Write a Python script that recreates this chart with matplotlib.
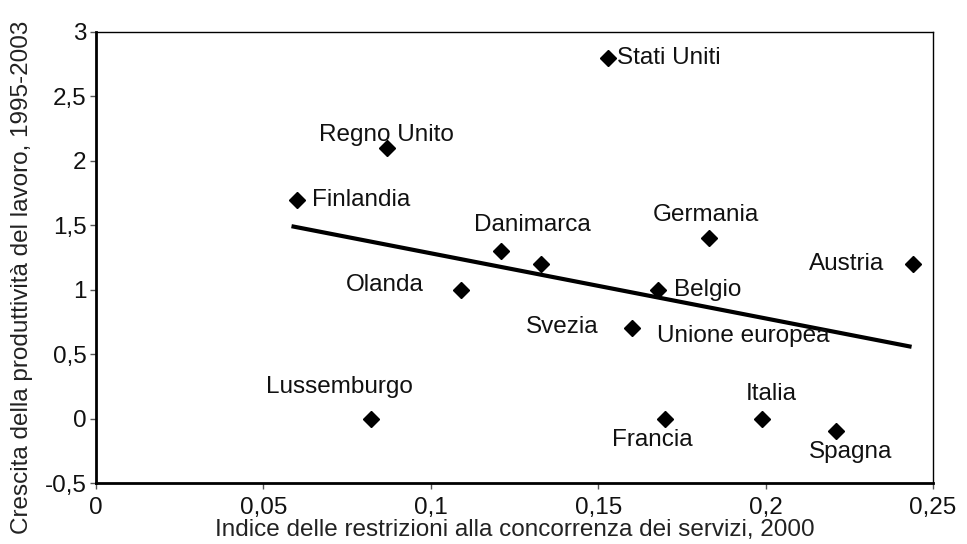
import matplotlib.pyplot as plt

plt.rcParams['font.family'] = ['Liberation Sans', 'DejaVu Sans']

# Dati: indice delle restrizioni (x) e crescita della produttività (y)
paesi = ['Stati Uniti', 'Regno Unito', 'Finlandia', 'Danimarca', 'Svezia',
         'Olanda', 'Germania', 'Belgio', 'Unione europea', 'Austria',
         'Lussemburgo', 'Francia', 'Italia', 'Spagna']
indice = [0.153, 0.087, 0.060, 0.121, 0.133, 0.109, 0.183, 0.168, 0.160,
          0.244, 0.082, 0.170, 0.199, 0.221]
crescita = [2.8, 2.1, 1.7, 1.3, 1.2, 1.0, 1.4, 1.0, 0.7, 1.2, 0.0, 0.0,
            0.0, -0.1]

# Retta di tendenza (estremi)
trend_x = [0.059, 0.243]
trend_y = [1.49, 0.56]

x_ticks = [0, 0.05, 0.1, 0.15, 0.2, 0.25]
x_labels = ['0', '0,05', '0,1', '0,15', '0,2', '0,25']
y_ticks = [-0.5, 0, 0.5, 1, 1.5, 2, 2.5, 3]
y_labels = ['-0,5', '0', '0,5', '1', '1,5', '2', '2,5', '3']

FS = 17.5

# posizione delle etichette rispetto al punto (pixel) e allineamento
etichette = {
    'Stati Uniti': (9, 0, 'left', 'center'),
    'Regno Unito': (-1, 13, 'center', 'center'),
    'Finlandia': (15, 0, 'left', 'center'),
    'Olanda': (-37, 5, 'right', 'center'),
    'Germania': (-3, 23, 'center', 'center'),
    'Belgio': (16, 0, 'left', 'center'),
    'Unione europea': (25, -8, 'left', 'center'),
    'Austria': (-29, 0, 'right', 'center'),
    'Lussemburgo': (-31, 32, 'center', 'center'),
    'Francia': (-13, -21, 'center', 'center'),
    'Italia': (9, 25, 'center', 'center'),
    'Spagna': (15, -21, 'center', 'center'),
}

fig = plt.figure(figsize=(9.67, 5.44), dpi=100)
ax = fig.add_axes([0.0993, 0.1121, 0.8655, 0.8291])

ax.plot(indice, crescita, linestyle='none', marker='D', markersize=8,
        color='black')
ax.plot(trend_x, trend_y, color='black', linewidth=3)

for nome, xv, yv in zip(paesi, indice, crescita):
    if nome not in etichette:
        continue
    dx, dy, ha, va = etichette[nome]
    ax.annotate(nome, (xv, yv), xytext=(dx, dy), textcoords='offset pixels',
                ha=ha, va=va, fontsize=FS, color='#111111')

# Danimarca: etichetta centrata sopra i due punti vicini
i_dk = paesi.index('Danimarca')
ax.annotate('Danimarca', (indice[i_dk], crescita[i_dk]), xytext=(31, 26),
            textcoords='offset pixels', ha='center', va='center', fontsize=FS,
            color='#111111')

# Svezia: etichetta a sinistra del punto dell'Unione europea
i_ue = paesi.index('Unione europea')
ax.annotate('Svezia', (indice[i_ue], crescita[i_ue]), xytext=(-33, 1),
            textcoords='offset pixels', ha='right', va='center', fontsize=FS,
            color='#111111')

ax.set_xlim(0, 0.25)
ax.set_ylim(-0.5, 3)
ax.set_xticks(x_ticks)
ax.set_xticklabels(x_labels, fontsize=FS, color='#111111')
ax.set_yticks(y_ticks)
ax.set_yticklabels(y_labels, fontsize=FS, color='#111111')
ax.tick_params(axis='x', length=4, width=1, pad=6, color='#555555')
ax.tick_params(axis='y', length=4, width=1, pad=3, color='#555555')

for lato in ['left', 'bottom']:
    ax.spines[lato].set_linewidth(2)
for lato in ['top', 'right']:
    ax.spines[lato].set_linewidth(1)

ax.set_xlabel('Indice delle restrizioni alla concorrenza dei servizi, 2000',
              fontsize=FS, color='#222222', labelpad=0)
ax.set_ylabel('Crescita della produttività del lavoro, 1995-2003',
              fontsize=FS, color='#222222', va='center')
ax.yaxis.set_label_coords(-0.088, 0.455)

fig.savefig('out.png', dpi=100)
